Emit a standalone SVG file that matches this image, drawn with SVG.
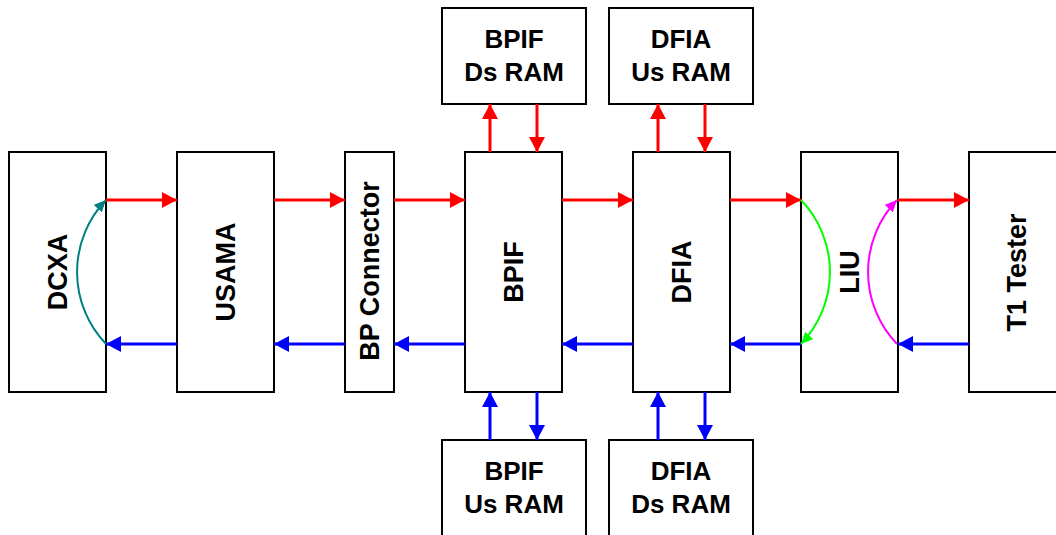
<svg xmlns="http://www.w3.org/2000/svg" width="1056" height="535" viewBox="0 0 1056 535">
<style>
.box{fill:#fff;stroke:#000;stroke-width:2}
.t{font-family:"Liberation Sans",Arial,Helvetica,sans-serif;font-weight:bold;font-size:26px;fill:#000;text-anchor:middle}
.v{font-size:27px}
.r{stroke:#f00;stroke-width:3;fill:none}
.b{stroke:#00f;stroke-width:3;fill:none}
.cv{stroke-width:2;fill:none}
</style>
<defs>
<marker id="ar" markerUnits="userSpaceOnUse" markerWidth="15" markerHeight="16" refX="15" refY="8" orient="auto"><path d="M0,0L15,8L0,16z" fill="#f00"/></marker>
<marker id="ab" markerUnits="userSpaceOnUse" markerWidth="15" markerHeight="16" refX="15" refY="8" orient="auto"><path d="M0,0L15,8L0,16z" fill="#00f"/></marker>
<marker id="at" markerUnits="userSpaceOnUse" markerWidth="12" markerHeight="11" refX="12" refY="5.5" orient="auto"><path d="M0,0L12,5.5L0,11z" fill="#008080"/></marker>
<marker id="ag" markerUnits="userSpaceOnUse" markerWidth="12" markerHeight="11" refX="12" refY="5.5" orient="auto"><path d="M0,0L12,5.5L0,11z" fill="#0f0"/></marker>
<marker id="am" markerUnits="userSpaceOnUse" markerWidth="12" markerHeight="11" refX="12" refY="5.5" orient="auto"><path d="M0,0L12,5.5L0,11z" fill="#f0f"/></marker>
</defs>
<g id="dcxa"><rect class="box" x="9" y="152" width="97" height="240"/><text class="t v" transform="translate(57.5,272) rotate(-90)" y="9.7">DCXA</text></g>
<g id="usama"><rect class="box" x="177" y="152" width="97" height="240"/><text class="t v" transform="translate(225.5,272) rotate(-90)" y="9.7">USAMA</text></g>
<g id="bpconn"><rect class="box" x="345" y="152" width="49" height="240"/><text class="t v" transform="translate(369.5,271) rotate(-90)" y="9.7">BP Connector</text></g>
<g id="bpif"><rect class="box" x="465" y="152" width="97" height="240"/><text class="t v" transform="translate(513.5,272) rotate(-90)" y="9.7">BPIF</text></g>
<g id="dfia"><rect class="box" x="633" y="152" width="97" height="240"/><text class="t v" transform="translate(681.5,272) rotate(-90)" y="9.7">DFIA</text></g>
<g id="liu"><rect class="box" x="801" y="152" width="97" height="240"/><text class="t v" transform="translate(849.5,272) rotate(-90)" y="9.7">LIU</text></g>
<g id="t1"><rect class="box" x="969" y="152" width="97" height="240"/><text class="t v" transform="translate(1016.5,272.5) rotate(-90)" y="9.7">T1 Tester</text></g>
<g id="bpifds"><rect class="box" x="442" y="8" width="144" height="96"/><text class="t" x="514" y="48">BPIF</text><text class="t" x="514" y="81">Ds RAM</text></g>
<g id="dfiaus"><rect class="box" x="609" y="8" width="144" height="96"/><text class="t" x="681" y="48">DFIA</text><text class="t" x="681" y="81">Us RAM</text></g>
<g id="bpifus"><rect class="box" x="442" y="440" width="144" height="110"/><text class="t" x="514" y="480">BPIF</text><text class="t" x="514" y="513">Us RAM</text></g>
<g id="dfiads"><rect class="box" x="609" y="440" width="144" height="110"/><text class="t" x="681" y="480">DFIA</text><text class="t" x="681" y="513">Ds RAM</text></g>
<g id="connectors">
<line class="r" x1="106" y1="200" x2="177" y2="200" marker-end="url(#ar)"/>
<line class="r" x1="274" y1="200" x2="345" y2="200" marker-end="url(#ar)"/>
<line class="r" x1="394" y1="200" x2="465" y2="200" marker-end="url(#ar)"/>
<line class="r" x1="562" y1="200" x2="633" y2="200" marker-end="url(#ar)"/>
<line class="r" x1="730" y1="200" x2="801" y2="200" marker-end="url(#ar)"/>
<line class="r" x1="898" y1="200" x2="969" y2="200" marker-end="url(#ar)"/>
<line class="b" x1="177" y1="344" x2="106" y2="344" marker-end="url(#ab)"/>
<line class="b" x1="345" y1="344" x2="274" y2="344" marker-end="url(#ab)"/>
<line class="b" x1="465" y1="344" x2="394" y2="344" marker-end="url(#ab)"/>
<line class="b" x1="633" y1="344" x2="562" y2="344" marker-end="url(#ab)"/>
<line class="b" x1="801" y1="344" x2="730" y2="344" marker-end="url(#ab)"/>
<line class="b" x1="969" y1="344" x2="898" y2="344" marker-end="url(#ab)"/>
<line class="r" x1="490" y1="152" x2="490" y2="104" marker-end="url(#ar)"/>
<line class="r" x1="537" y1="104" x2="537" y2="152" marker-end="url(#ar)"/>
<line class="r" x1="658" y1="152" x2="658" y2="104" marker-end="url(#ar)"/>
<line class="r" x1="705" y1="104" x2="705" y2="152" marker-end="url(#ar)"/>
<line class="b" x1="490" y1="440" x2="490" y2="392" marker-end="url(#ab)"/>
<line class="b" x1="537" y1="392" x2="537" y2="440" marker-end="url(#ab)"/>
<line class="b" x1="658" y1="440" x2="658" y2="392" marker-end="url(#ab)"/>
<line class="b" x1="705" y1="392" x2="705" y2="440" marker-end="url(#ab)"/>
<path class="cv" stroke="#008080" d="M106,344A104,104 0 0 1 106,200" marker-end="url(#at)"/>
<path class="cv" stroke="#0f0" d="M801,200A104,104 0 0 1 801,344" marker-end="url(#ag)"/>
<path class="cv" stroke="#f0f" d="M897,344A104,104 0 0 1 897,200" marker-end="url(#am)"/>
</g>
</svg>
